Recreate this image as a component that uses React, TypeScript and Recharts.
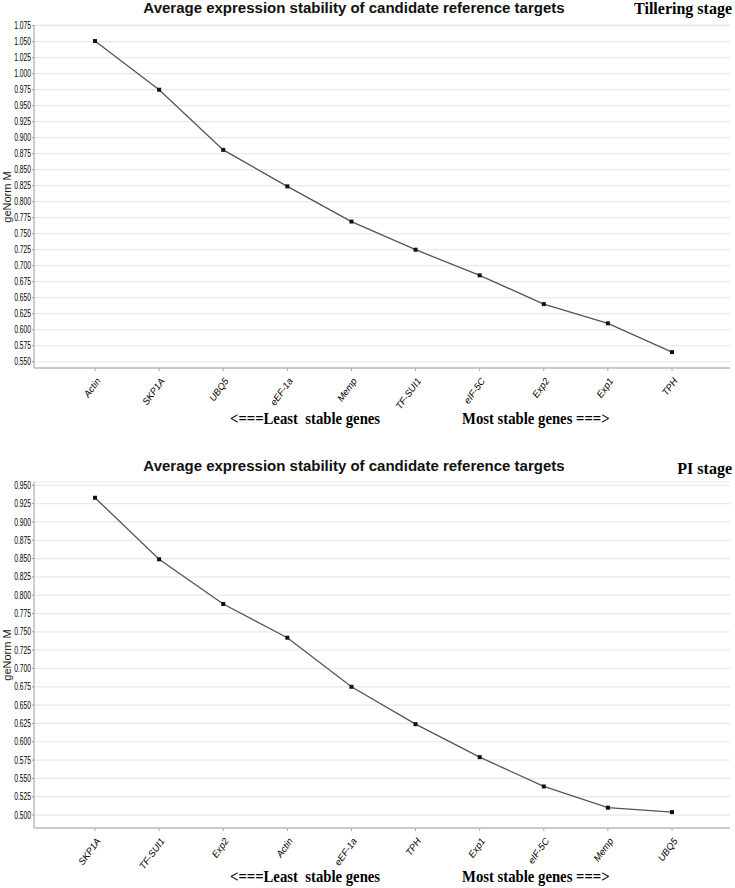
import React from 'react';
import { LineChart, Line, XAxis, YAxis, CartesianGrid } from 'recharts';

// Tillering stage
const tilleringGenes = ['Actin', 'SKP1A', 'UBQ5', 'eEF-1a', 'Memp', 'TF-SUI1', 'eIF-5C', 'Exp2', 'Exp1', 'TPH'];
const tilleringM = [1.051, 0.975, 0.881, 0.824, 0.769, 0.725, 0.685, 0.640, 0.610, 0.565];
const tilleringTicks = [
  0.55, 0.575, 0.6, 0.625, 0.65, 0.675, 0.7, 0.725, 0.75, 0.775, 0.8, 0.825,
  0.85, 0.875, 0.9, 0.925, 0.95, 0.975, 1.0, 1.025, 1.05, 1.075,
];

// PI stage
const piGenes = ['SKP1A', 'TF-SUI1', 'Exp2', 'Actin', 'eEF-1a', 'TPH', 'Exp1', 'eIF-5C', 'Memp', 'UBQ5'];
const piM = [0.933, 0.849, 0.788, 0.742, 0.675, 0.624, 0.579, 0.539, 0.510, 0.504];
const piTicks = [
  0.5, 0.525, 0.55, 0.575, 0.6, 0.625, 0.65, 0.675, 0.7, 0.725, 0.75, 0.775,
  0.8, 0.825, 0.85, 0.875, 0.9, 0.925, 0.95,
];

const TITLE = 'Average expression stability of candidate reference targets';

const YTick = (props: any) => {
  const { x, y, payload } = props;
  return (
    <text
      x={x}
      y={y}
      dy={3.6}
      textAnchor="end"
      fontSize={10.5}
      fontFamily="'Liberation Sans', Arial, sans-serif"
      fill="#000"
      transform={`translate(${x} ${y}) scale(0.64 1) translate(${-x} ${-y})`}
    >
      {Number(payload.value).toFixed(3)}
    </text>
  );
};

const XTick = (props: any) => {
  const { x, y, payload } = props;
  const ax = x + 6;
  const ay = y + 8;
  return (
    <text
      x={ax}
      y={ay}
      textAnchor="end"
      fontSize={9.5}
      fontStyle="italic"
      fontFamily="'Liberation Sans', Arial, sans-serif"
      fill="#000"
      transform={`rotate(-54 ${ax} ${ay})`}
    >
      {payload.value}
    </text>
  );
};

const SquareDot = (props: any) => {
  const { cx, cy, index } = props;
  return <rect key={index} x={cx - 2} y={cy - 2} width={4} height={4} fill="#111" />;
};

interface PanelProps {
  genes: string[];
  values: number[];
  ticks: number[];
  domain: [number, number];
  stage: string;
  top: number;
  height: number;
  plotTop: number;
  plotBottom: number;
  titleTop: number;
  stageTop: number;
  footerTop: number;
}

const footerStyle: React.CSSProperties = {
  position: 'absolute',
  fontFamily: "'Liberation Serif', 'Times New Roman', serif",
  fontWeight: 'bold',
  fontSize: 16,
  lineHeight: '16px',
  color: '#000',
  whiteSpace: 'nowrap',
  transform: 'scaleX(0.92)',
  transformOrigin: 'left center',
};

function Panel(p: PanelProps) {
  const data = p.genes.map((g, i) => ({ gene: g, m: p.values[i] }));
  const bottomOffset = p.height - p.plotBottom;
  const midY = (p.plotTop + p.plotBottom) / 2;
  return (
    <div style={{ position: 'absolute', left: 0, top: p.top, width: 735, height: p.height }}>
      <div
        style={{
          position: 'absolute',
          left: 0,
          width: 708,
          top: p.titleTop,
          textAlign: 'center',
          fontFamily: "'Liberation Sans', Arial, sans-serif",
          fontWeight: 'bold',
          fontSize: 15,
          lineHeight: '17px',
          color: '#111',
          whiteSpace: 'nowrap',
        }}
      >
        {TITLE}
      </div>
      <div
        style={{
          position: 'absolute',
          right: 3,
          top: p.stageTop,
          fontFamily: "'Liberation Serif', 'Times New Roman', serif",
          fontWeight: 'bold',
          fontSize: 16,
          lineHeight: '16px',
          color: '#000',
          whiteSpace: 'nowrap',
        }}
      >
        {p.stage}
      </div>
      <div
        style={{
          position: 'absolute',
          left: 7 - 60,
          top: midY - 7,
          width: 120,
          height: 14,
          lineHeight: '14px',
          textAlign: 'center',
          transform: 'rotate(-90deg)',
          fontFamily: "'Liberation Sans', Arial, sans-serif",
          fontSize: 11,
          color: '#222',
        }}
      >
        geNorm M
      </div>
      <LineChart
        width={735}
        height={p.height}
        data={data}
        margin={{ top: p.plotTop, right: 5, left: 0, bottom: bottomOffset - 30 }}
      >
        <CartesianGrid vertical={false} stroke="#e8e8e8" strokeWidth={1.2} />
        <XAxis
          dataKey="gene"
          interval={0}
          height={30}
          padding={{ left: 61, right: 58 }}
          tick={<XTick />}
          tickSize={3}
          tickLine={{ stroke: '#aaa' }}
          axisLine={{ stroke: '#bdbdbd', strokeWidth: 1.5 }}
        />
        <XAxis xAxisId="top" orientation="top" height={0} tick={false} tickLine={false} axisLine={{ stroke: '#d0d0d0', strokeWidth: 1.5 }} />
        <YAxis
          type="number"
          domain={p.domain}
          ticks={p.ticks}
          interval={0}
          allowDataOverflow
          width={34}
          tick={<YTick />}
          tickSize={2}
          tickMargin={1}
          tickLine={{ stroke: '#999' }}
          axisLine={{ stroke: '#bdbdbd', strokeWidth: 1.5 }}
        />
        <YAxis yAxisId="right" orientation="right" width={0} tick={false} tickLine={false} axisLine={{ stroke: '#d0d0d0', strokeWidth: 1.5 }} />
        <Line
          type="linear"
          dataKey="m"
          stroke="#555"
          strokeWidth={1.3}
          dot={<SquareDot />}
          activeDot={false}
          isAnimationActive={false}
        />
      </LineChart>
      <div style={{ ...footerStyle, left: 230, top: p.footerTop }}>&lt;===Least&nbsp; stable genes</div>
      <div style={{ ...footerStyle, left: 462, top: p.footerTop }}>Most stable genes ===&gt;</div>
    </div>
  );
}

export default function App() {
  return (
    <div style={{ position: 'absolute', left: 0, top: 0, width: 735, height: 888, background: '#fff', overflow: 'hidden' }}>
      <Panel
        genes={tilleringGenes}
        values={tilleringM}
        ticks={tilleringTicks}
        domain={[0.5402, 1.0761]}
        stage="Tillering stage"
        top={0}
        height={440}
        plotTop={25}
        plotBottom={368}
        titleTop={-1}
        stageTop={1}
        footerTop={411}
      />
      <Panel
        genes={piGenes}
        values={piM}
        ticks={piTicks}
        domain={[0.4823, 0.9545]}
        stage="PI stage"
        top={440}
        height={448}
        plotTop={42}
        plotBottom={388}
        titleTop={17}
        stageTop={21}
        footerTop={429}
      />
    </div>
  );
}
